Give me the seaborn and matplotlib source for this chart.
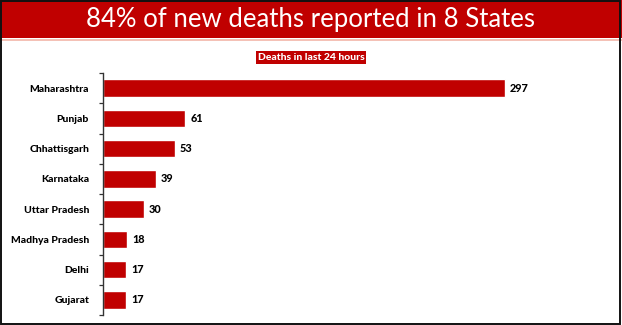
import matplotlib
matplotlib.use("Agg")
import matplotlib.pyplot as plt
import seaborn as sns
import pandas as pd
from matplotlib.patches import Rectangle
from matplotlib.lines import Line2D

states = ["Maharashtra", "Punjab", "Chhattisgarh", "Karnataka", "Uttar Pradesh",
          "Madhya Pradesh", "Delhi", "Gujarat"]
deaths = [297, 61, 53, 39, 30, 18, 17, 17]
title = "84% of new deaths reported in 8 States"
subtitle = "Deaths in last 24 hours"

sns.set_theme(style="white")
plt.rcParams['font.family'] = ['Lato', 'DejaVu Sans']

RED = "#C00000"
W, H = 622, 325
fig = plt.figure(figsize=(W / 100, H / 100), dpi=100)
fig.patch.set_facecolor("white")

# banner
fig.patches.append(Rectangle((0, (H - 38) / H), 1, 38 / H, transform=fig.transFigure,
                             facecolor=RED, edgecolor="none", zorder=0))
fig.lines.append(Line2D([0, 1], [(H - 39.5) / H] * 2, transform=fig.transFigure,
                        color="#F2B5A8", lw=1.2))
fig.text(0.5, (H - 19) / H, title, color="white", fontsize=18.5, ha="center", va="center")

# subtitle box
fig.text(0.5, (H - 57.5) / H, subtitle, color="white", fontsize=7.5, fontweight="black",
         ha="center", va="center",
         bbox=dict(boxstyle="square,pad=0.2", facecolor=RED, edgecolor="none"))

# border
fig.patches.append(Rectangle((0.0015, 0.004), 0.996, 0.993, transform=fig.transFigure,
                             facecolor="none", edgecolor="#111111", lw=1.4, zorder=10))

ax = fig.add_axes([103 / W, (H - 315) / H, 457 / W, 242 / H])
df = pd.DataFrame({"state": states, "deaths": deaths})
sns.barplot(data=df, x="deaths", y="state", orient="h", color=RED, width=0.58,
            saturation=1, ax=ax)
ax.set_xlim(0, 338)
ax.set_ylim(len(states) - 0.5, -0.5)
ax.set_xlabel("")
ax.set_ylabel("")
ax.set_xticks([])
for s in ["top", "right", "bottom"]:
    ax.spines[s].set_visible(False)
ax.spines["left"].set_color("#333333")
ax.spines["left"].set_linewidth(1.0)
ax.tick_params(axis="y", which="major", length=0, pad=10, labelsize=7.5, labelcolor="black")
for lab in ax.get_yticklabels():
    lab.set_fontweight("black")
ax.set_yticks([i - 0.5 for i in range(len(states) + 1)], minor=True)
ax.tick_params(axis="y", which="minor", left=True, length=3, width=0.9, color="#333333")

for i, v in enumerate(deaths):
    ax.annotate(str(v), (v, i), xytext=(3.5, 0), textcoords="offset points",
                ha="left", va="center", fontsize=7.8, fontweight="black", color="black")

fig.savefig("out.png", dpi=100)
